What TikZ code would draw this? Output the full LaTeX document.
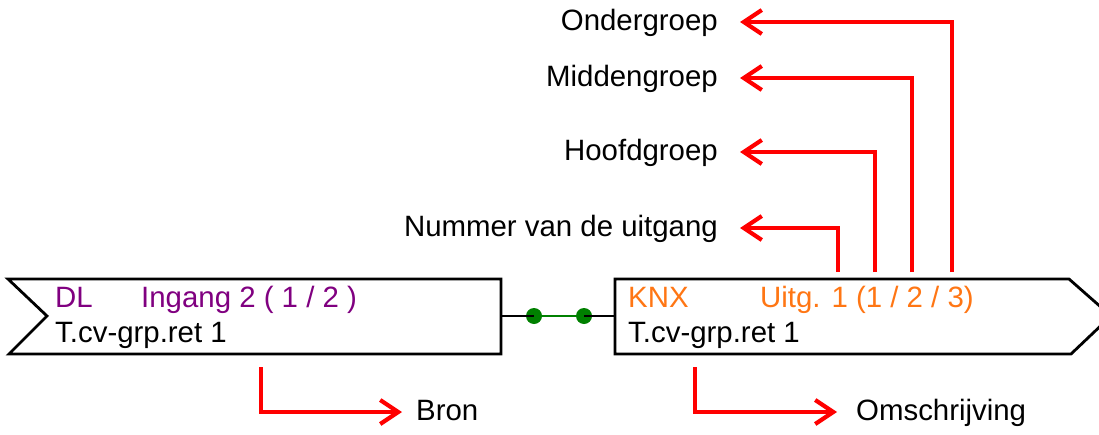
\documentclass[tikz,border=0pt]{standalone}
\usepackage{fontspec}
\setmainfont{Liberation Sans}
\usetikzlibrary{arrows.meta}
\definecolor{dlpurple}{RGB}{128,0,128}
\definecolor{knxorange}{RGB}{255,118,20}
\definecolor{linkgreen}{RGB}{0,128,0}
\definecolor{pred}{RGB}{255,0,0}
\begin{document}
\begin{tikzpicture}[x=1pt,y=-1pt,
  every node/.style={inner sep=0pt,font=\fontsize{29.4}{34}\selectfont},
  boxline/.style={draw=black,line width=2.8pt,line join=miter},
  redarrow/.style={draw=pred,line width=4.2pt,-{Straight Barb[length=18pt,width=24pt,line width=4.2pt]}},
  dot/.style={circle,fill=linkgreen,minimum size=16pt,inner sep=0pt}]
\useasboundingbox (0,0) rectangle (1099,434);
% boxes
\draw[boxline] (8,279) -- (501,279) -- (501,354) -- (9,354) -- (47,316) -- cycle;
\draw[boxline] (615,279) -- (1069,279) -- (1111,316) -- (1071,354) -- (615,354) -- cycle;
\coordinate (lout) at (501,316);
\coordinate (rin) at (615,316);
% box texts
\node[anchor=base west,text=dlpurple] (dl) at (55,307) {DL};
\node[anchor=base west,text=dlpurple] (ing) at (141,307) {Ingang 2 ( 1 / 2 )};
\node[anchor=base west] (lname) at (55,342) {T.cv-grp.ret 1};
\node[anchor=base west,text=knxorange] (knx) at (628,307) {KNX};
\node[anchor=base west,text=knxorange] (uitg) at (760,307) {Uitg. 1 (1 / 2 / 3)};
\node[anchor=base west] (rname) at (628,342) {T.cv-grp.ret 1};
% link
\node[dot] (d1) at (534,316) {};
\node[dot] (d2) at (584,316) {};
\draw[line width=2.8pt] (lout) -- (d1.center);
\draw[line width=2.8pt] (d2.center) -- (rin);
\draw[line width=2.6pt,linkgreen] (d1) -- (d2);
% top labels
\node[anchor=mid east] (ond) at (718,28) {Ondergroep};
\node[anchor=mid east] (mid) at (718,84) {Middengroep};
\node[anchor=mid east] (hfd) at (718,158) {Hoofdgroep};
\node[anchor=mid east] (num) at (718,234) {Nummer van de uitgang};
\coordinate (s1) at (838,272);
\coordinate (s2) at (875,272);
\coordinate (s3) at (912,272);
\coordinate (s4) at (952,272);
\coordinate (t1) at (740,228);
\coordinate (t2) at (740,152);
\coordinate (t3) at (740,78);
\coordinate (t4) at (740,22);
\draw[redarrow] (s1) |- (t1);
\draw[redarrow] (s2) |- (t2);
\draw[redarrow] (s3) |- (t3);
\draw[redarrow] (s4) |- (t4);
% bottom labels
\node[anchor=mid west] (bron) at (416,418) {Bron};
\node[anchor=mid west] (oms) at (856,418) {Omschrijving};
\coordinate (b1) at (261,367);
\coordinate (b2) at (695,367);
\coordinate (bt) at (402,412);
\coordinate (ot) at (837,412);
\draw[redarrow] (b1) |- (bt);
\draw[redarrow] (b2) |- (ot);
\end{tikzpicture}
\end{document}
